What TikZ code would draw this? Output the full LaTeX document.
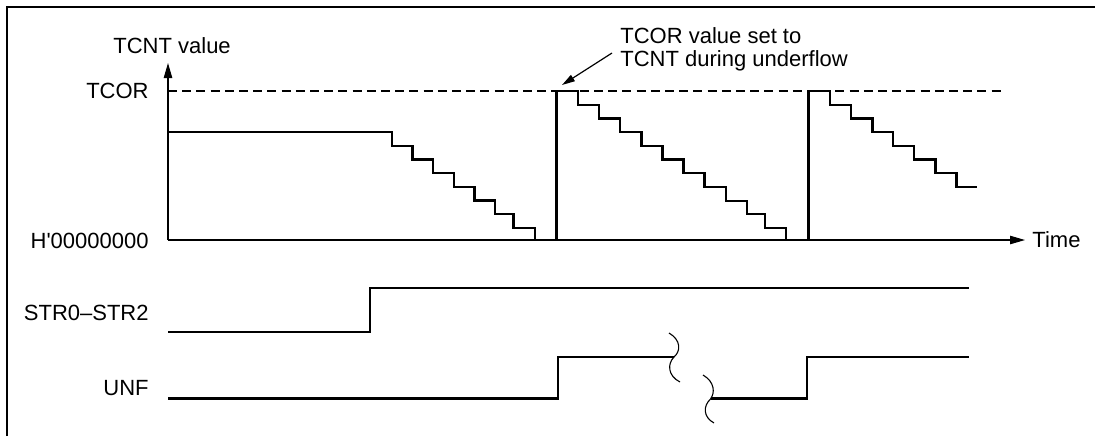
\documentclass[tikz,border=0pt]{standalone}
\usepackage{fontspec}
\setmainfont{Liberation Sans}[Ligatures=TeXOff]
\usetikzlibrary{arrows.meta}
\begin{document}
\begin{tikzpicture}[x=0.5pt,y=-0.5pt,
  lbl/.style={inner sep=0pt,font=\fontsize{11}{13}\selectfont},
  sig/.style={line width=1.1pt,line join=miter},
  axis/.style={line width=0.6pt},
  brk/.style={line width=0.55pt},
  tip/.style={-{Triangle[length=7.5pt,width=4.2pt]}}]
\useasboundingbox (0,0) rectangle (1095,436);
% frame
\draw[line width=1.25pt] (7,436) -- (7,7) -- (1095,7);
% axes
\coordinate (O) at (168,240);
\coordinate (Ytop) at (168,63);
\coordinate (Xend) at (1025,240);
\draw[axis,tip] (O) -- (Ytop);
\draw[axis,tip] (O) -- (Xend);
\draw[axis,dash pattern=on 4.5pt off 2.6pt] (168,91) -- (1001,91);
% labels
\node[lbl,anchor=west] (tcntv) at (113,46) {TCNT value};
\node[lbl,anchor=east] (tcor) at (149,91) {TCOR};
\node[lbl,anchor=east] (zero) at (149,240.5) {H'00000000};
\node[lbl,anchor=east] (str) at (149,312.5) {STR0–STR2};
\node[lbl,anchor=east] (unf) at (149,388) {UNF};
\node[lbl,anchor=west] (time) at (1032,240) {Time};
\node[lbl,anchor=base west] (ann1) at (620,43) {TCOR value set to};
\node[lbl,anchor=base west] (ann2) at (620,66) {TCNT during underflow};
% annotation arrow
\coordinate (annTail) at (612,53);
\coordinate (annTip) at (562,85);
\draw[axis,-{Triangle[length=6.5pt,width=3.6pt]}] (annTail) -- (annTip);
% TCNT value staircase
\draw[sig] (168,132) -- (392,132) -- (392,145.7) -- (412.5,145.7) -- (412.5,159.4)
  -- (433,159.4) -- (433,173.1) -- (454,173.1) -- (454,186.8) -- (474.5,186.8)
  -- (474.5,200.5) -- (495,200.5) -- (495,214.2) -- (513.5,214.2) -- (513.5,227.9)
  -- (535,227.9) -- (535,240);
\draw[sig] (556.5,240) -- (556.5,91) -- (578,91) -- (578,104.7) -- (599,104.7)
  -- (599,118.4) -- (620,118.4) -- (620,132.1) -- (641.5,132.1) -- (641.5,145.8)
  -- (662.5,145.8) -- (662.5,159.5) -- (683.5,159.5) -- (683.5,173.2) -- (704.5,173.2)
  -- (704.5,186.9) -- (726,186.9) -- (726,200.6) -- (747,200.6) -- (747,214.3)
  -- (765,214.3) -- (765,228) -- (786,228) -- (786,240);
\draw[sig] (808.5,240) -- (808.5,91) -- (830,91) -- (830,104.7) -- (851,104.7)
  -- (851,118.4) -- (872.5,118.4) -- (872.5,132.1) -- (893,132.1) -- (893,145.8)
  -- (914,145.8) -- (914,159.5) -- (935.5,159.5) -- (935.5,173.2) -- (956.5,173.2)
  -- (956.5,186.9) -- (977,186.9);
% STR0-STR2
\draw[sig] (168,331.7) -- (370,331.7) -- (370,288.3) -- (969,288.3);
% UNF
\draw[sig] (168,398.5) -- (558,398.5) -- (558,356.7) -- (674,356.7);
\draw[sig] (710.5,398.5) -- (807,398.5) -- (807,356.7) -- (969,356.7);
% break marks
\draw[brk] (669,333) .. controls (681,340) and (681,351) .. (674,357)
  .. controls (667,364) and (668,376) .. (680,382);
\draw[brk] (703,375) .. controls (715,382) and (715,393) .. (710.5,399)
  .. controls (703,406) and (703,417) .. (714,423);
\end{tikzpicture}
\end{document}
